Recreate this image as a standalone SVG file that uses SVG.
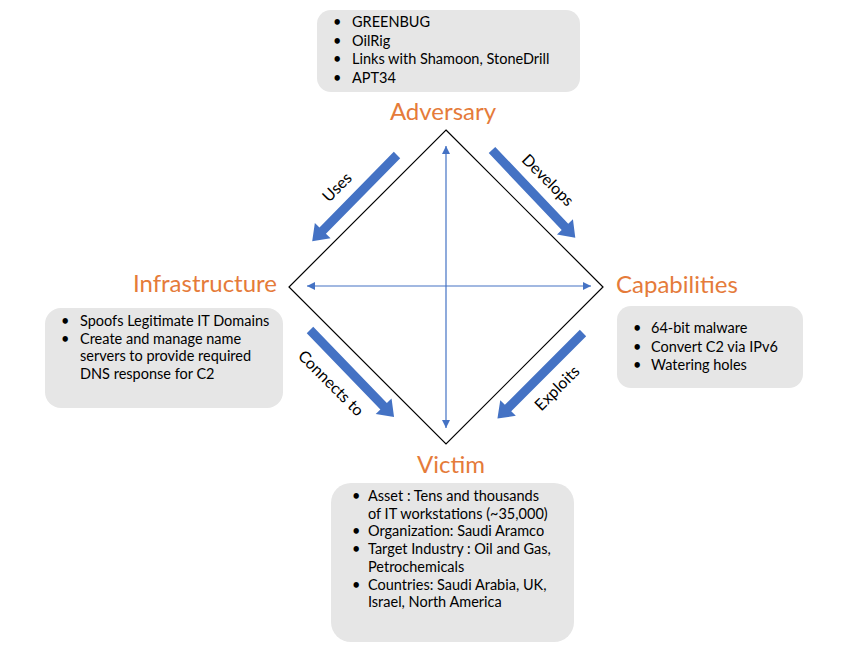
<svg xmlns="http://www.w3.org/2000/svg" width="850" height="650" viewBox="0 0 850 650">
<defs>
<style>
.box{fill:#E6E6E6;stroke:none}
.t{font-family:Lato,"Open Sans","Liberation Sans",sans-serif;font-size:14.5px;fill:#000}
.title{font-family:Lato,"Open Sans","Liberation Sans",sans-serif;font-size:24px;fill:#E57B3A}
.lbl{font-family:Lato,"Open Sans","Liberation Sans",sans-serif;font-size:16px;fill:#000}
.blk{fill:#4472C4}
.thin{stroke:#4472C4;stroke-width:1.2;fill:none}
</style>
<marker id="ah" viewBox="0 0 10 10" refX="10" refY="5" markerWidth="8" markerHeight="8" markerUnits="userSpaceOnUse" orient="auto-start-reverse">
<path d="M0,0 L10,5 L0,10 z" fill="#4472C4"/>
</marker>
<path id="barrow" d="M0,-4.5 L106,-4.5 L106,-11 L121,0 L106,11 L106,4.5 L0,4.5 z"/>
</defs>
<rect width="850" height="650" fill="#fff"/>

<g id="diamond">
<polygon points="446,130 603,287 446,444 289,287" fill="none" stroke="#000" stroke-width="1.2"/>
</g>

<g id="connectors">
<line class="thin" x1="446" y1="146" x2="446" y2="428" marker-start="url(#ah)" marker-end="url(#ah)"/>
<line class="thin" x1="307" y1="286" x2="591" y2="286" marker-start="url(#ah)" marker-end="url(#ah)"/>
<use href="#barrow" class="blk" transform="translate(397,155) rotate(134.5)"/>
<use href="#barrow" class="blk" transform="translate(492,150) rotate(46.5)"/>
<use href="#barrow" class="blk" transform="translate(310,330) rotate(46)"/>
<use href="#barrow" class="blk" transform="translate(583,333) rotate(135)"/>
<text class="lbl" text-anchor="middle" transform="translate(341,191) rotate(-45)">Uses</text>
<text class="lbl" text-anchor="middle" transform="translate(544,184) rotate(45)">Develops</text>
<text class="lbl" text-anchor="middle" transform="translate(327,387) rotate(45)">Connects to</text>
<text class="lbl" text-anchor="middle" transform="translate(561,392) rotate(-45)">Exploits</text>
</g>

<g id="adversary">
<rect class="box" x="317" y="10" width="263" height="82" rx="14"/>
<g class="t">
<text x="333" y="27">•</text><text x="352" y="27">GREENBUG</text>
<text x="333" y="45.5">•</text><text x="352" y="45.5">OilRig</text>
<text x="333" y="64">•</text><text x="352" y="64">Links with Shamoon, StoneDrill</text>
<text x="333" y="82.5">•</text><text x="352" y="82.5">APT34</text>
</g>
<text class="title" x="443" y="120" text-anchor="middle">Adversary</text>
</g>

<g id="infrastructure">
<text class="title" x="277" y="292" text-anchor="end">Infrastructure</text>
<rect class="box" x="45" y="308" width="238" height="100" rx="16"/>
<g class="t">
<text x="61" y="326">•</text><text x="80" y="326">Spoofs Legitimate IT Domains</text>
<text x="61" y="343.5">•</text><text x="80" y="343.5">Create and manage name</text>
<text x="80" y="361">servers to provide required</text>
<text x="80" y="378.5">DNS response for C2</text>
</g>
</g>

<g id="capabilities">
<text class="title" x="616" y="293">Capabilities</text>
<rect class="box" x="617" y="306" width="186" height="82" rx="14"/>
<g class="t">
<text x="633" y="333">•</text><text x="651" y="333">64-bit malware</text>
<text x="633" y="351.5">•</text><text x="651" y="351.5">Convert C2 via IPv6</text>
<text x="633" y="370">•</text><text x="651" y="370">Watering holes</text>
</g>
</g>

<g id="victim">
<text class="title" x="451" y="473" text-anchor="middle">Victim</text>
<rect class="box" x="331" y="483" width="243" height="159" rx="20"/>
<g class="t">
<text x="352" y="501">•</text><text x="368" y="501">Asset : Tens and thousands</text>
<text x="368" y="518.5">of IT workstations (~35,000)</text>
<text x="352" y="536">•</text><text x="368" y="536">Organization: Saudi Aramco</text>
<text x="352" y="554">•</text><text x="368" y="554">Target Industry : Oil and Gas,</text>
<text x="368" y="571.5">Petrochemicals</text>
<text x="352" y="589.5">•</text><text x="368" y="589.5">Countries: Saudi Arabia, UK,</text>
<text x="368" y="607">Israel, North America</text>
</g>
</g>
</svg>
